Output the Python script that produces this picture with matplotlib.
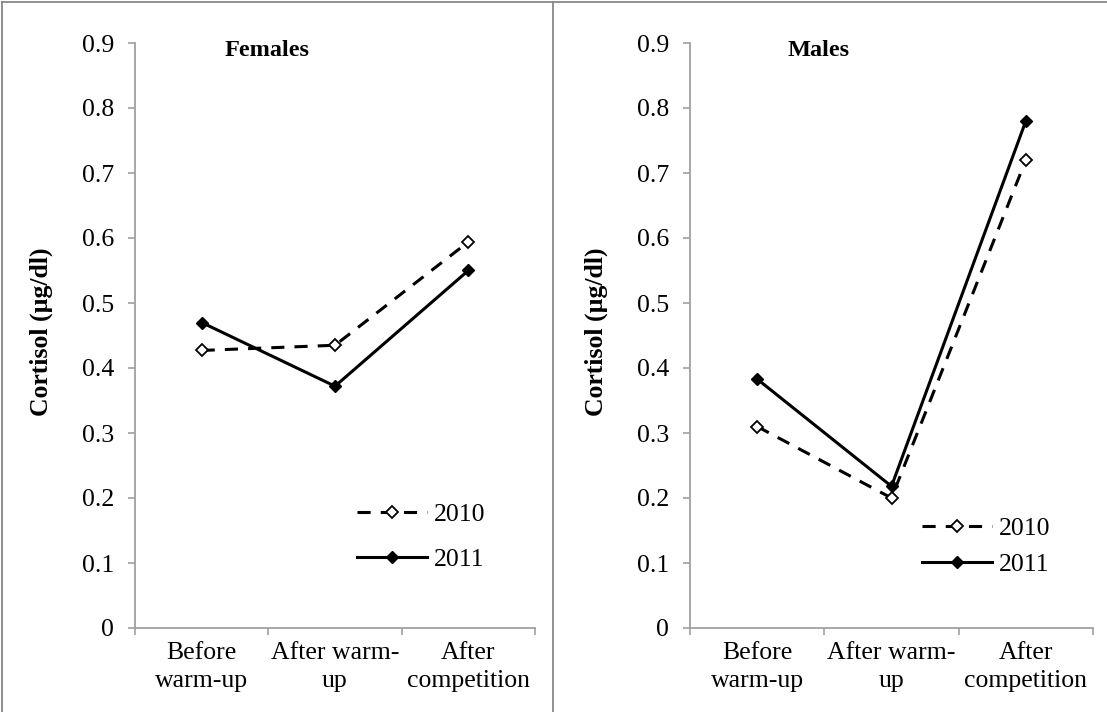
import matplotlib.pyplot as plt
from matplotlib.lines import Line2D

plt.rcParams['font.family'] = ['Liberation Serif', 'DejaVu Serif']

# data
categories = ['Before\nwarm-up', 'After warm-\nup', 'After\ncompetition']
females_2010 = [0.427, 0.435, 0.594]
females_2011 = [0.470, 0.372, 0.550]
males_2010 = [0.310, 0.200, 0.720]
males_2011 = [0.383, 0.218, 0.780]
yticks = [0, 0.1, 0.2, 0.3, 0.4, 0.5, 0.6, 0.7, 0.8, 0.9]
ytick_labels = ['0', '0.1', '0.2', '0.3', '0.4', '0.5', '0.6', '0.7', '0.8', '0.9']

W, H = 1107, 712
fig = plt.figure(figsize=(W / 100, H / 100), dpi=100)

grey = '#a0a0a0'
FS = 18.5

def fx(px):
    return px / W

def fy(py):
    return 1 - py / H

def panel(rect, title, s2010, s2011, title_x, leg_anchor, leg_spacing):
    ax = fig.add_axes(rect)
    x = [i + 0.5 for i in range(len(categories))]
    ax.plot(x, s2010, color='black', lw=2.2, ls=(0, (4.3, 3.3)),
            marker='D', ms=6.5, mfc='white', mec='black', mew=1.3, label='2010')
    ax.plot(x, s2011, color='black', lw=2.2, ls='-',
            marker='D', ms=6.5, mfc='black', mec='black', label='2011')
    ax.set_xlim(0, 3)
    ax.set_ylim(0, 0.9)
    ax.set_yticks(yticks)
    ax.set_yticklabels(ytick_labels)
    ax.set_xticks([0, 1, 2, 3])
    ax.set_xticklabels([])
    ax.set_xticks(x, minor=True)
    ax.set_xticklabels(categories, minor=True, linespacing=1.35)
    ax.tick_params(axis='x', which='minor', length=0, pad=10, labelsize=FS)
    ax.tick_params(axis='x', which='major', length=5, width=1.2, color=grey, direction='out')
    ax.tick_params(axis='y', length=5, width=1.2, color=grey, direction='out', pad=10, labelsize=FS)
    for s in ['top', 'right']:
        ax.spines[s].set_visible(False)
    for s in ['left', 'bottom']:
        ax.spines[s].set_color(grey)
        ax.spines[s].set_linewidth(1.3)
    ax.text(title_x, 0.988, title, transform=ax.transAxes, ha='center', va='center',
            fontsize=17.5, fontweight='bold')
    ax.legend(loc='center left', bbox_to_anchor=leg_anchor, frameon=False, fontsize=FS,
              handlelength=2.72, handletextpad=0.27, borderpad=0, borderaxespad=0,
              labelspacing=leg_spacing, numpoints=1)
    return ax

ax1 = panel([fx(135), fy(628), fx(535) - fx(135), fy(43) - fy(628)],
            'Females', females_2010, females_2011, 0.33, (0.555, 0.156), 0.87)
ax2 = panel([fx(690), fy(628), fx(1093) - fx(690), fy(43) - fy(628)],
            'Males', males_2010, males_2011, 0.318, (0.576, 0.139), 0.51)

fig.text(fx(41), fy(332), 'Cortisol (µg/dl)', rotation=90, ha='center', va='center',
         fontsize=18.5, fontweight='bold')
fig.text(fx(596), fy(332), 'Cortisol (µg/dl)', rotation=90, ha='center', va='center',
         fontsize=18.5, fontweight='bold')

# panel frames
border = '#888888'
fig.add_artist(Line2D([fx(2), 1], [fy(2), fy(2)], color=border, lw=1.3))
fig.add_artist(Line2D([fx(2), fx(2)], [fy(2), 0], color=border, lw=1.3))
fig.add_artist(Line2D([fx(553), fx(553)], [fy(2), 0], color=border, lw=1.3))

fig.savefig('out.png', dpi=100)
